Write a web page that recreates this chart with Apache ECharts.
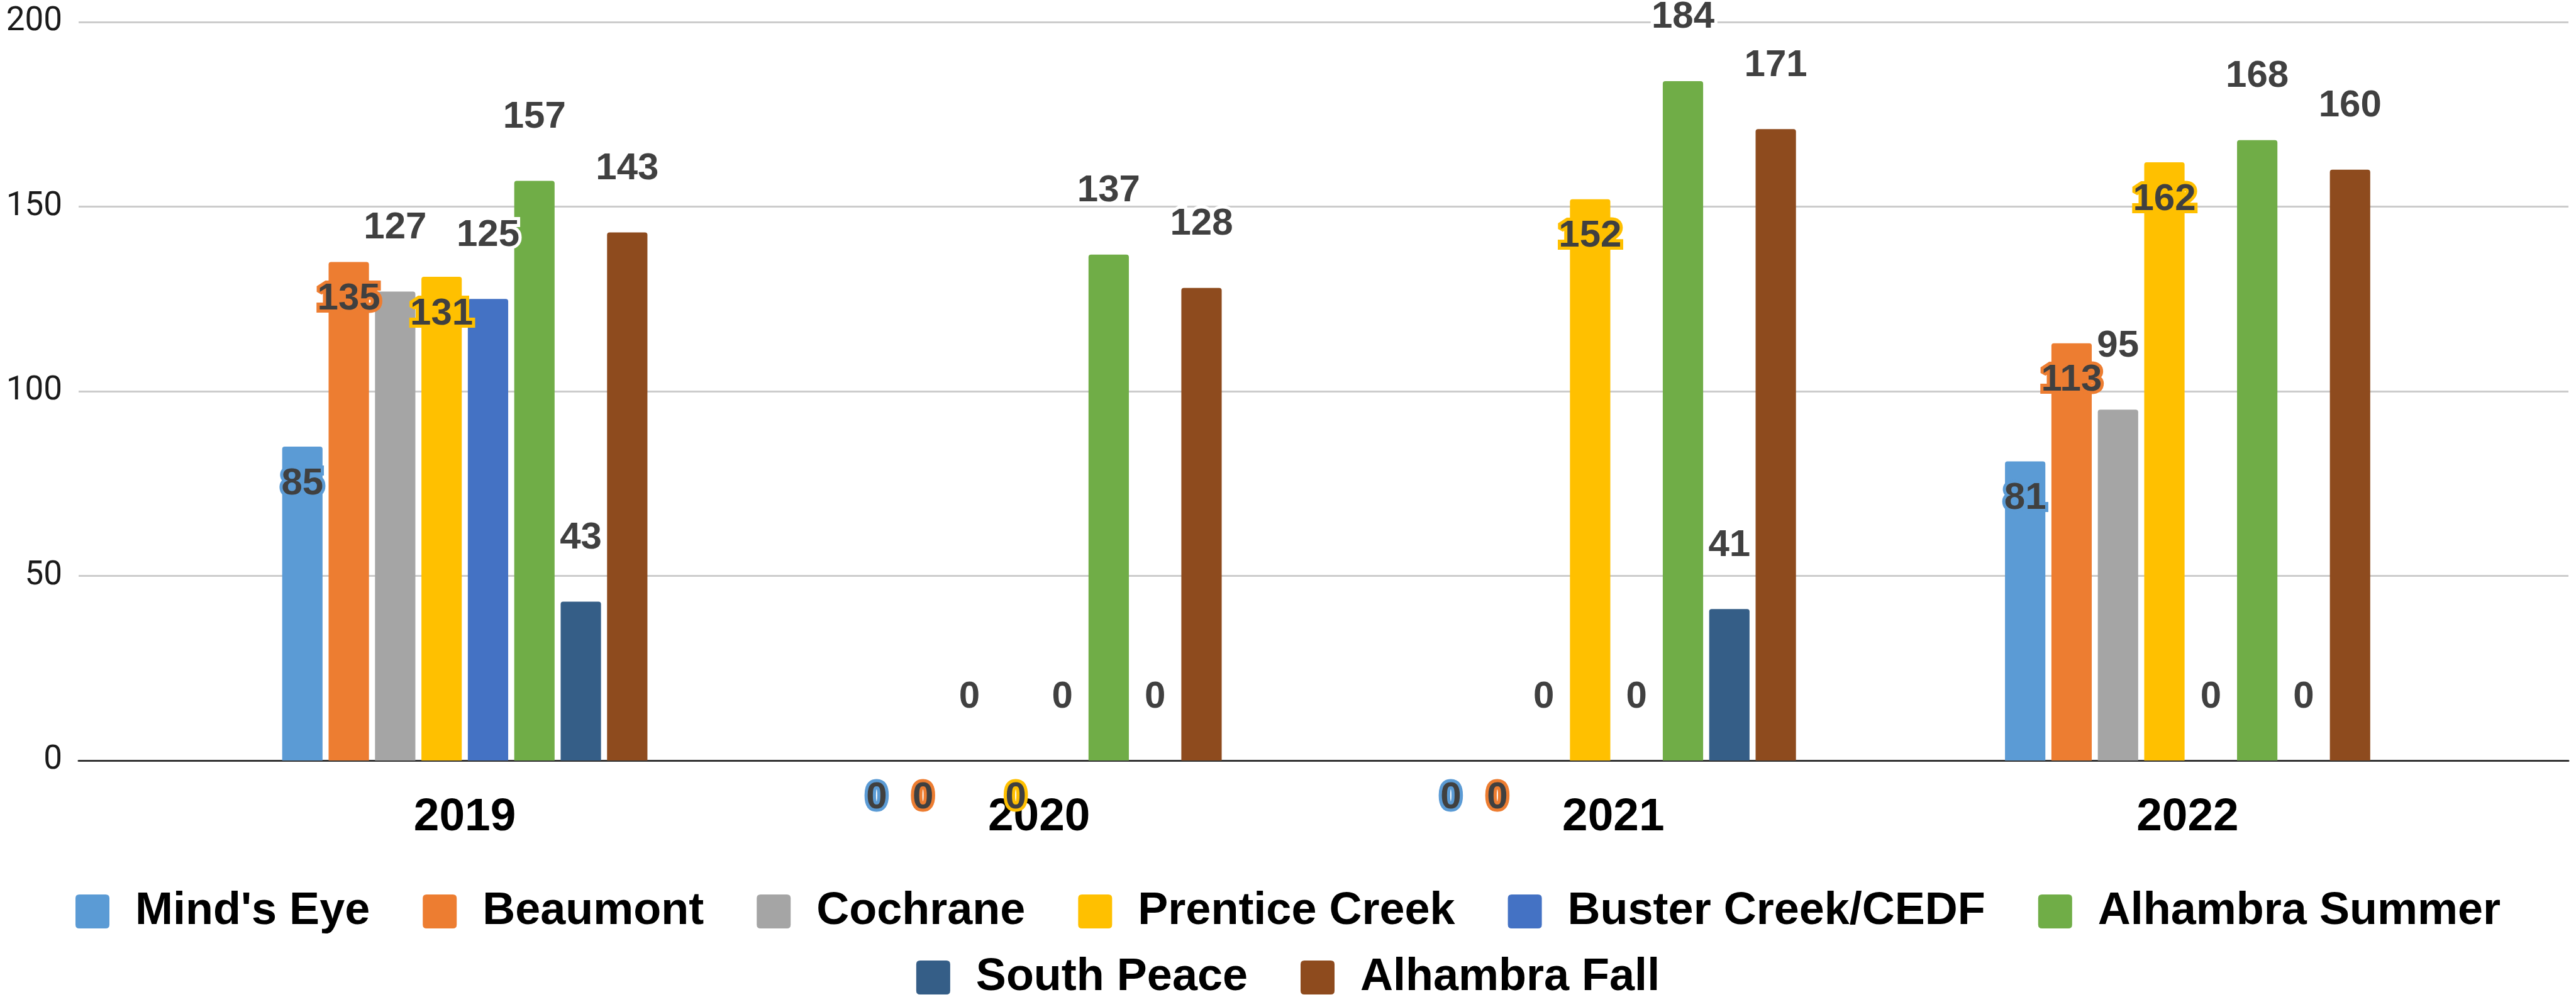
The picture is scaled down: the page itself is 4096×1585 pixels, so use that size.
<!DOCTYPE html>
<html>
<head>
<meta charset="utf-8">
<script src="https://cdn.jsdelivr.net/npm/echarts@6/dist/echarts.min.js"></script>
<style>
  html, body { margin: 0; padding: 0; background: #fff; }
  #chart { width: 4096px; height: 1585px; }
</style>
</head>
<body>
<div id="chart"></div>
<script>
  // categories
  const years = ['2019', '2020', '2021', '2022']
  // series names (legend order)
  const seriesNames = ["Mind's Eye", 'Beaumont', 'Cochrane', 'Prentice Creek', 'Buster Creek/CEDF', 'Alhambra Summer', 'South Peace', 'Alhambra Fall']
  // values per series
  const mindsEye = [85, 0, 0, 81]
  const beaumont = [135, 0, 0, 113]
  const cochrane = [127, 0, 0, 95]
  const prenticeCreek = [131, 0, 152, 162]
  const busterCreek = [125, 0, 0, 0]
  const alhambraSummer = [157, 137, 184, 168]
  const southPeace = [43, 0, 41, 0]
  const alhambraFall = [143, 128, 171, 160]
  // y axis ticks
  const yMin = 0
  const yMax = 200
  const yStep = 50

  const seriesValues = [mindsEye, beaumont, cochrane, prenticeCreek, busterCreek, alhambraSummer, southPeace, alhambraFall]
  const colors = ['#5b9bd5', '#ed7d31', '#a5a5a5', '#ffc000', '#4472c4', '#70ad47', '#355e87', '#8e4b1e']
  // labels drawn inside the bar top (with coloured halo)
  const insideLabel = [true, true, false, true, false, false, false, false]

  let chart = echarts.init(document.getElementById('chart'))

  let series = seriesNames.map((name, i) => {
    let label = {
      show: true,
      fontFamily: 'Liberation Sans',
      fontWeight: 'bold',
      fontSize: 60,
      color: '#404040',
      textBorderWidth: 10
    }
    if (insideLabel[i]) {
      label.position = 'insideTop'
      label.distance = 29
      label.textBorderColor = colors[i]
    } else {
      label.position = 'top'
      label.distance = 71
      label.textBorderColor = '#ffffff'
    }
    return {
      name: name,
      type: 'bar',
      xAxisIndex: 1,
      yAxisIndex: 1,
      data: seriesValues[i],
      barGap: '15%',
      barCategoryGap: '36.4%',
      itemStyle: { color: colors[i], borderRadius: [4, 4, 0, 0] },
      label: label,
      animation: false
    }
  })

  let legendCommon = {
    left: 'center',
    orient: 'horizontal',
    itemWidth: 54,
    itemHeight: 54,
    itemGap: 84,
    icon: 'path://M6,0 H48 Q54,0 54,6 V48 Q54,54 48,54 H6 Q0,54 0,48 V6 Q0,0 6,0 Z',
    textStyle: {
      fontFamily: 'Liberation Sans',
      fontWeight: 'bold',
      fontSize: 72,
      color: '#000',
      padding: [0, 0, 0, 36]
    }
  }

  let option = {
    backgroundColor: '#ffffff',
    color: colors,
    legend: [
      Object.assign({}, legendCommon, { top: 1408, data: seriesNames.slice(0, 6) }),
      Object.assign({}, legendCommon, { top: 1513, data: seriesNames.slice(6) })
    ],
    grid: [
      // gridlines + y labels
      { left: 125, right: 12, top: 35, bottom: 376 },
      // bars
      { left: 282.5, right: 161, top: 35, bottom: 376 }
    ],
    xAxis: [
      {
        type: 'category',
        gridIndex: 0,
        data: years,
        axisLine: { show: true, lineStyle: { color: '#333', width: 3 } },
        axisTick: { show: false },
        axisLabel: { show: false }
      },
      {
        type: 'category',
        gridIndex: 1,
        data: years,
        axisLine: { show: false },
        axisTick: { show: false },
        axisLabel: {
          margin: 54,
          fontFamily: 'Liberation Sans',
          fontWeight: 'bold',
          fontSize: 73,
          color: '#000'
        }
      }
    ],
    yAxis: [
      {
        type: 'value',
        gridIndex: 0,
        min: yMin,
        max: yMax,
        interval: yStep,
        axisLine: { show: false },
        axisTick: { show: false },
        axisLabel: {
          margin: 26,
          fontFamily: 'Roboto',
          fontSize: 53,
          color: '#1a1a1a'
        },
        splitLine: { show: true, lineStyle: { color: '#cccccc', width: 3 } }
      },
      {
        type: 'value',
        gridIndex: 1,
        min: yMin,
        max: yMax,
        interval: yStep,
        show: false,
        splitLine: { show: false }
      }
    ],
    series: series
  }
  chart.setOption(option)
</script>
</body>
</html>
